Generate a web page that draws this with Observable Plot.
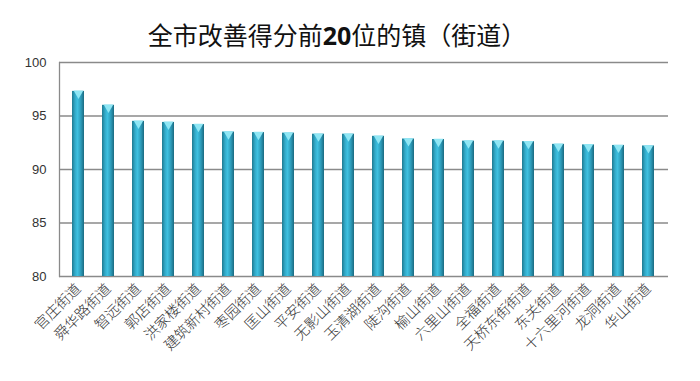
<!DOCTYPE html>
<html><head><meta charset="utf-8">
<script src="https://cdn.jsdelivr.net/npm/d3@7"></script>
<script src="https://cdn.jsdelivr.net/npm/@observablehq/plot@0.6"></script>
<style>
body{margin:0;background:#fff;width:700px;height:381px;overflow:hidden}
#title{height:52px;box-sizing:border-box;padding-top:22px;padding-right:26px;text-align:center;font-family:"Noto Sans CJK SC";font-size:25px;line-height:25px;color:#111}
#title b{font-family:"Open Sans","Noto Sans CJK SC";font-weight:700}
</style></head>
<body>
<div id="title">全市改善得分前<b>20</b>位的镇（街道）</div>
<div id="chart"></div>
<script>
const names = ["官庄街道","舜华路街道","智远街道","郭店街道","洪家楼街道","建筑新村街道","枣园街道","匡山街道","平安街道","无影山街道","玉清湖街道","陡沟街道","榆山街道","六里山街道","全福街道","天桥东街街道","东关街道","十六里河街道","龙洞街道","华山街道"];
const values = [97.3, 96.0, 94.5, 94.4, 94.2, 93.5, 93.45, 93.4, 93.3, 93.3, 93.1, 92.85, 92.8, 92.65, 92.65, 92.6, 92.35, 92.3, 92.25, 92.2];
const yTicks = [80, 85, 90, 95, 100];

const data = names.map((n, i) => ({name: n, value: values[i]}));
const yMin = yTicks[0];

const chart = Plot.plot({
  width: 700, height: 329,
  marginLeft: 59, marginRight: 32, marginTop: 10, marginBottom: 105,
  style: {background: "#fff", fontFamily: "Liberation Sans"},
  x: {domain: names, paddingInner: 0.59, paddingOuter: 0.295, label: null},
  y: {domain: [yMin, yTicks[yTicks.length - 1]], label: null},
  marks: [
    Plot.ruleY(yTicks, {stroke: "#8a8a8a", strokeWidth: 1.3}),
    Plot.frame({anchor: "left", stroke: "#8a8a8a", strokeWidth: 1.3}),
    Plot.barY(data, {x: "name", y1: yMin, y2: "value", fill: "url(#cyl)"}),
    Plot.dot(data, {x: "name", y: "value", symbol: "triangle", rotate: 180, r: 3.6, dy: 2, fill: "#8fe6f4", stroke: "none"}),
    Plot.axisY({ticks: yTicks, tickSize: 0, tickPadding: 13, fontSize: 13, fontFamily: "Liberation Sans", color: "#333"}),
    Plot.axisX({tickSize: 0, tickRotate: -45, tickPadding: 10, fontSize: 14.5, fontFamily: "Noto Sans CJK SC", fontWeight: 300, color: "#333"})
  ]
});

const defs = document.createElementNS("http://www.w3.org/2000/svg", "defs");
defs.innerHTML = `<linearGradient id="cyl" x1="0" x2="1" y1="0" y2="0">
  <stop offset="0" stop-color="#1f7a91"/>
  <stop offset="0.25" stop-color="#32a9c8"/>
  <stop offset="0.45" stop-color="#3ec0e0"/>
  <stop offset="0.75" stop-color="#2c9ab8"/>
  <stop offset="1" stop-color="#1b6a80"/>
</linearGradient>`;
chart.insertBefore(defs, chart.firstChild);
document.getElementById("chart").appendChild(chart);
</script>
</body></html>
